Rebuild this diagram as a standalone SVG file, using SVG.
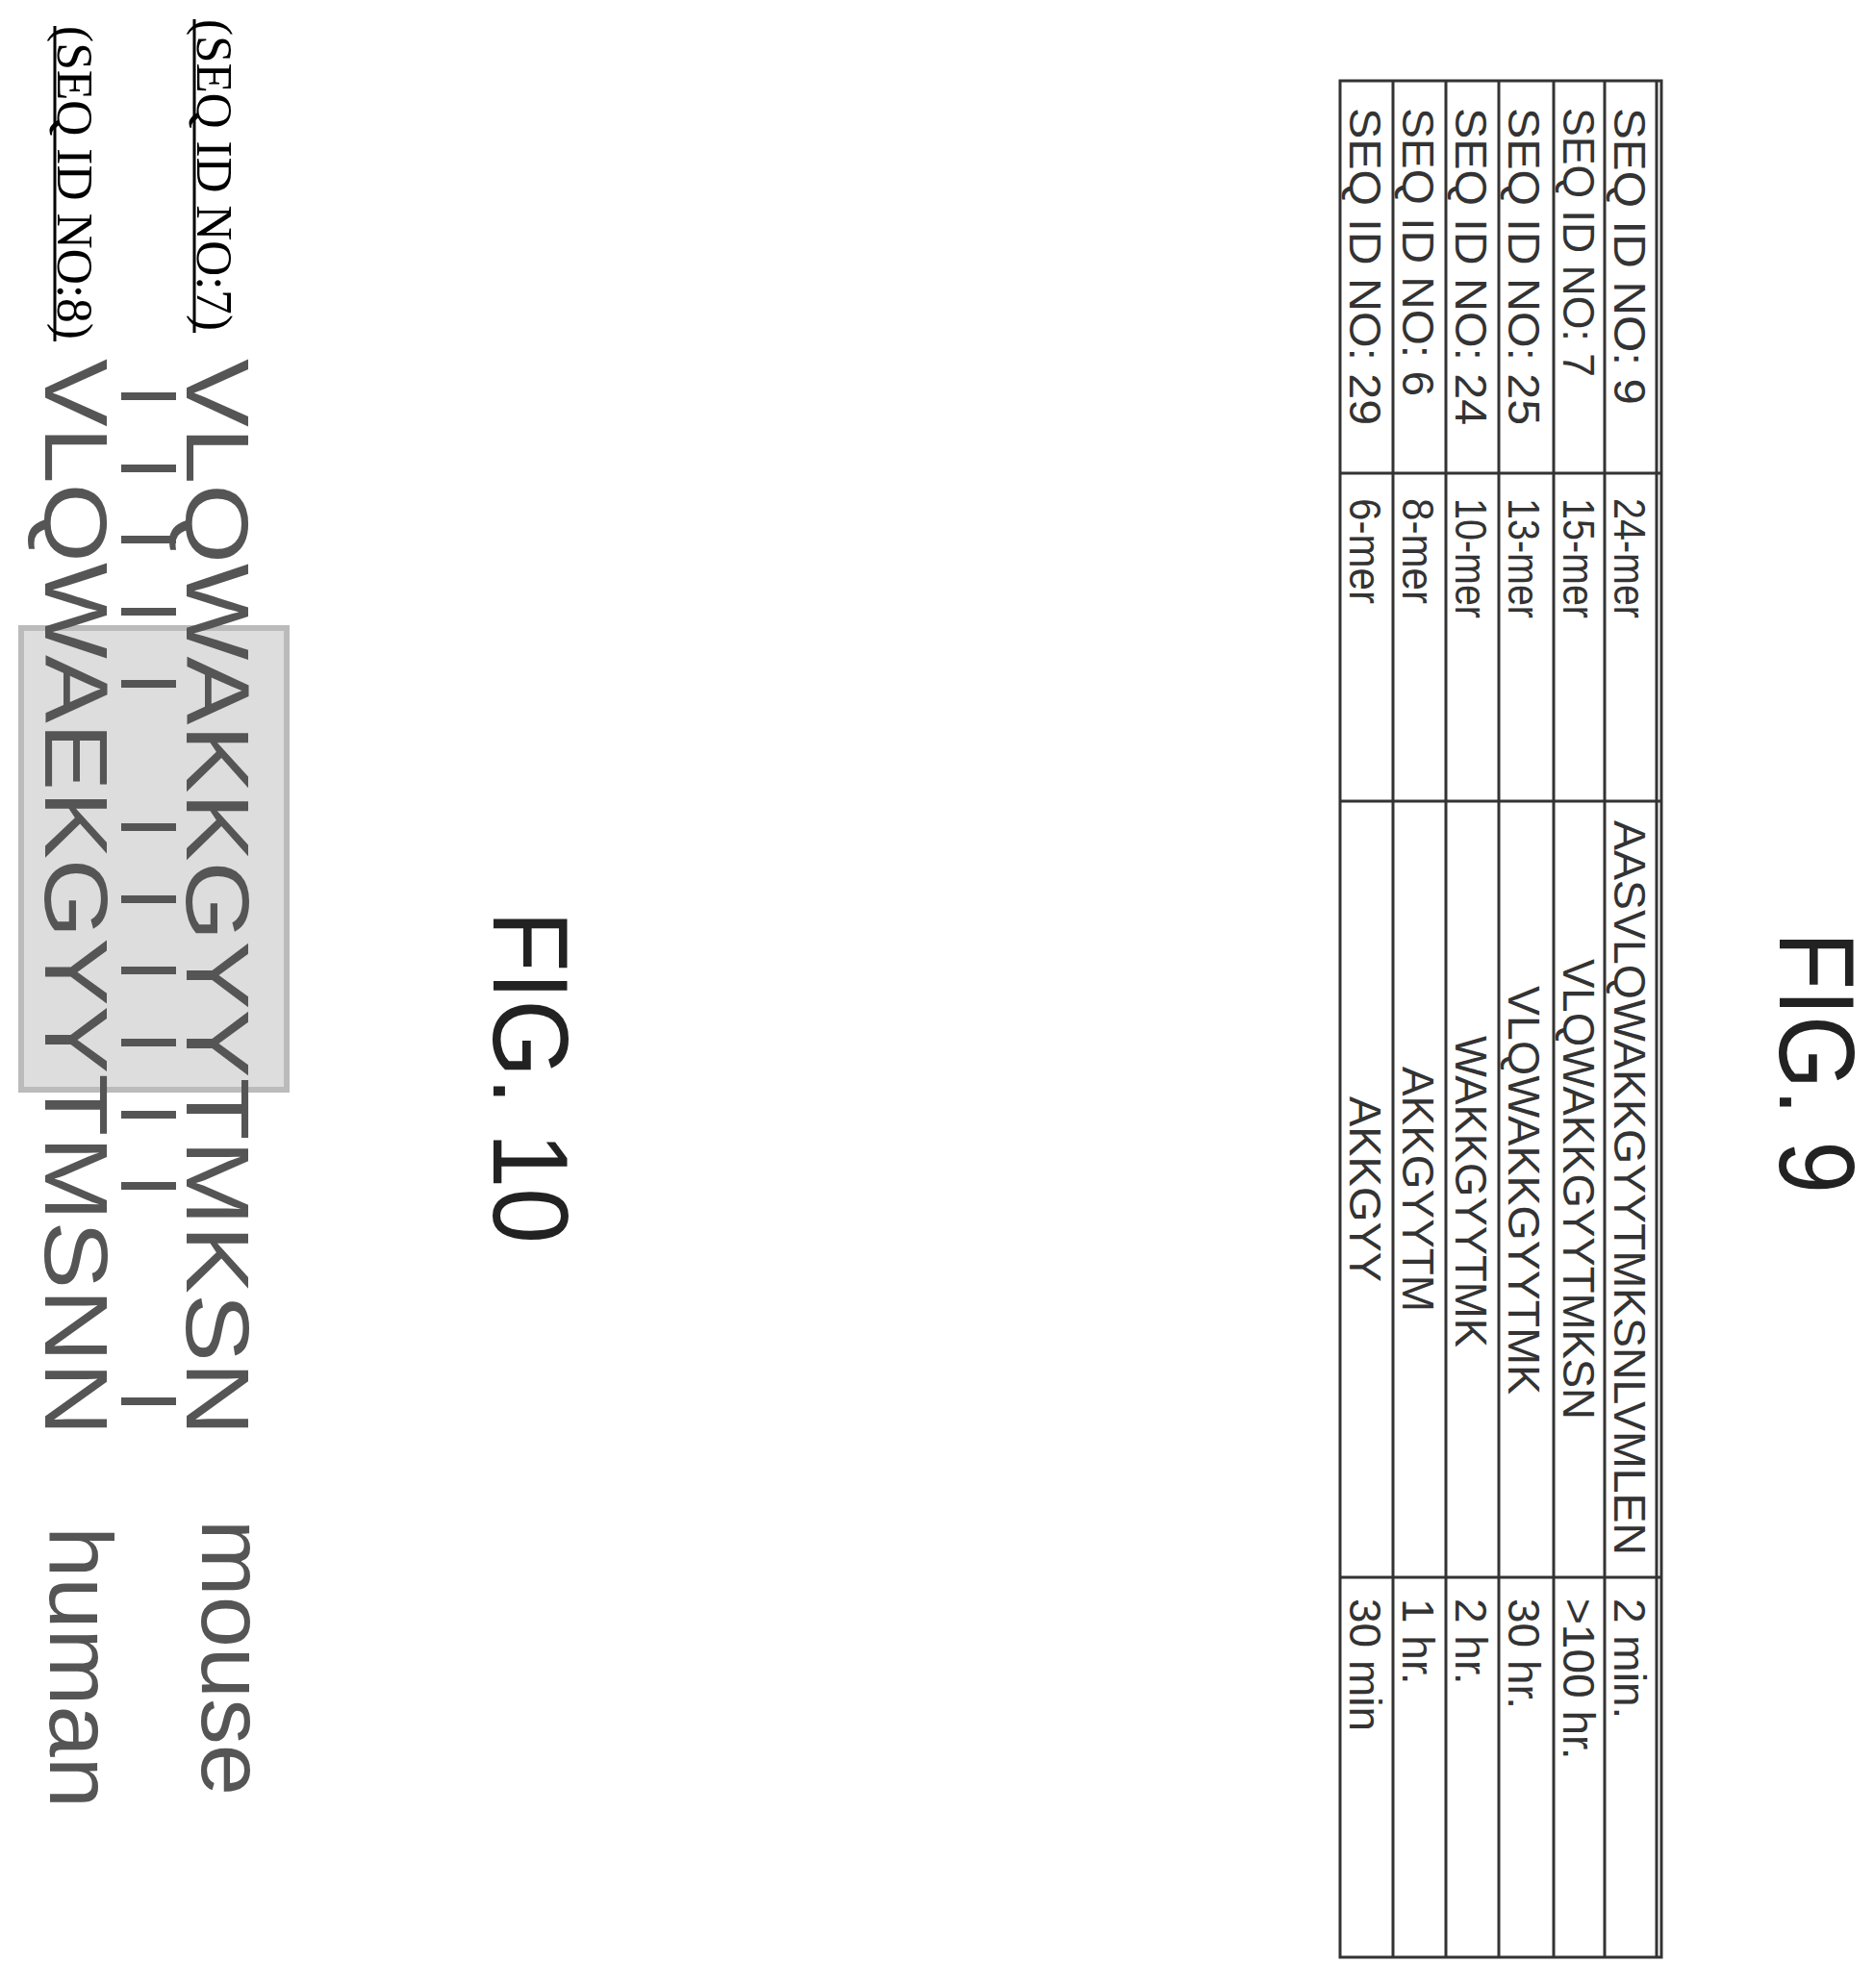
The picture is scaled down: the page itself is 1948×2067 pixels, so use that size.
<svg xmlns="http://www.w3.org/2000/svg" width="1948" height="2067" viewBox="0 0 1948 2067">
<style>
.t{font-family:"Liberation Sans",Arial,sans-serif;font-size:46px;fill:#333}
.fig{font-family:"Liberation Sans",Arial,sans-serif;font-size:112px;fill:#222}
.seq{font-family:"Liberation Sans",Arial,sans-serif;font-size:92px;fill:#555}
.id{font-family:"Liberation Serif","Times New Roman",serif;font-size:52px;fill:#000}
.bar{font-family:"Liberation Sans",Arial,sans-serif;font-size:92px;fill:#555}
.grid{stroke:#333;stroke-width:3;fill:none}
</style>
<g id="fig9-table">
<rect class="grid" x="1393" y="84" width="334" height="1951"/>
<line class="grid" x1="1722" y1="84" x2="1722" y2="2035"/>
<line class="grid" x1="1448" y1="84" x2="1448" y2="2035"/>
<line class="grid" x1="1503" y1="84" x2="1503" y2="2035"/>
<line class="grid" x1="1558" y1="84" x2="1558" y2="2035"/>
<line class="grid" x1="1615" y1="84" x2="1615" y2="2035"/>
<line class="grid" x1="1668" y1="84" x2="1668" y2="2035"/>
<line class="grid" x1="1393" y1="492" x2="1727" y2="492"/>
<line class="grid" x1="1393" y1="833" x2="1727" y2="833"/>
<line class="grid" x1="1393" y1="1640" x2="1727" y2="1640"/>
<g class="t">
<text transform="translate(1678,112) rotate(90)" textLength="309" lengthAdjust="spacingAndGlyphs">SEQ ID NO: 9</text>
<text transform="translate(1625,112) rotate(90)" textLength="280" lengthAdjust="spacingAndGlyphs">SEQ ID NO: 7</text>
<text transform="translate(1568,112) rotate(90)" textLength="330" lengthAdjust="spacingAndGlyphs">SEQ ID NO: 25</text>
<text transform="translate(1513,112) rotate(90)" textLength="330" lengthAdjust="spacingAndGlyphs">SEQ ID NO: 24</text>
<text transform="translate(1458,112) rotate(90)" textLength="300" lengthAdjust="spacingAndGlyphs">SEQ ID NO: 6</text>
<text transform="translate(1403,112) rotate(90)" textLength="330" lengthAdjust="spacingAndGlyphs">SEQ ID NO: 29</text>
<text transform="translate(1678,518) rotate(90)" textLength="125" lengthAdjust="spacingAndGlyphs">24-mer</text>
<text transform="translate(1625,518) rotate(90)" textLength="125" lengthAdjust="spacingAndGlyphs">15-mer</text>
<text transform="translate(1568,518) rotate(90)" textLength="125" lengthAdjust="spacingAndGlyphs">13-mer</text>
<text transform="translate(1513,518) rotate(90)" textLength="125" lengthAdjust="spacingAndGlyphs">10-mer</text>
<text transform="translate(1458,518) rotate(90)" textLength="110" lengthAdjust="spacingAndGlyphs">8-mer</text>
<text transform="translate(1403,518) rotate(90)" textLength="110" lengthAdjust="spacingAndGlyphs">6-mer</text>
<text transform="translate(1678,853) rotate(90)" textLength="764" lengthAdjust="spacingAndGlyphs">AASVLQWAKKGYYTMKSNLVMLEN</text>
<text transform="translate(1625,997) rotate(90)" textLength="479" lengthAdjust="spacingAndGlyphs">VLQWAKKGYYTMKSN</text>
<text transform="translate(1568,1025) rotate(90)" textLength="425" lengthAdjust="spacingAndGlyphs">VLQWAKKGYYTMK</text>
<text transform="translate(1513,1077) rotate(90)" textLength="324" lengthAdjust="spacingAndGlyphs">WAKKGYYTMK</text>
<text transform="translate(1458,1109) rotate(90)" textLength="255" lengthAdjust="spacingAndGlyphs">AKKGYYTM</text>
<text transform="translate(1403,1140) rotate(90)" textLength="193" lengthAdjust="spacingAndGlyphs">AKKGYY</text>
<text transform="translate(1678,1662) rotate(90)">2 min.</text>
<text transform="translate(1625,1662) rotate(90)">&gt;100 hr.</text>
<text transform="translate(1568,1662) rotate(90)">30 hr.</text>
<text transform="translate(1513,1662) rotate(90)">2 hr.</text>
<text transform="translate(1458,1662) rotate(90)">1 hr.</text>
<text transform="translate(1403,1662) rotate(90)">30 min</text>
</g>
</g>
<g id="fig9-label">
<text class="fig" transform="translate(1850,969) rotate(90)" textLength="272" lengthAdjust="spacingAndGlyphs">FIG. 9</text>
</g>
<g id="fig10-label">
<text class="fig" transform="translate(513,947) rotate(90)" textLength="346" lengthAdjust="spacingAndGlyphs">FIG. 10</text>
</g>
<g id="fig10-alignment">
<rect x="22" y="653" width="276" height="480" fill="#ddd" stroke="#bbb" stroke-width="6"/>
<text class="id" transform="translate(60,27) rotate(90)" textLength="326" lengthAdjust="spacingAndGlyphs">(SEQ ID NO:8)</text>
<line x1="57" y1="27" x2="57" y2="355" stroke="#000" stroke-width="3"/>
<text class="id" transform="translate(205,20) rotate(90)" textLength="324" lengthAdjust="spacingAndGlyphs">(SEQ ID NO:7)</text>
<line x1="202" y1="20" x2="202" y2="346" stroke="#000" stroke-width="3"/>
<text class="seq" transform="translate(194,373) rotate(90)" textLength="1120" lengthAdjust="spacingAndGlyphs">VLQWAKKGYYTMKSN</text>
<text class="seq" transform="translate(47,373) rotate(90)" textLength="1120" lengthAdjust="spacingAndGlyphs">VLQWAEKGYYTMSNN</text>
<g fill="#555">
<rect x="126" y="408" width="57" height="8"/>
<rect x="126" y="483" width="57" height="8"/>
<rect x="126" y="557" width="57" height="8"/>
<rect x="126" y="632" width="57" height="8"/>
<rect x="126" y="707" width="57" height="8"/>
<rect x="126" y="856" width="57" height="8"/>
<rect x="126" y="931" width="57" height="8"/>
<rect x="126" y="1005" width="57" height="8"/>
<rect x="126" y="1080" width="57" height="8"/>
<rect x="126" y="1155" width="57" height="8"/>
<rect x="126" y="1229" width="57" height="8"/>
<rect x="126" y="1453" width="57" height="8"/>
</g>
<text class="seq" transform="translate(210,1580) rotate(90)" textLength="287" lengthAdjust="spacingAndGlyphs">mouse</text>
<text class="seq" transform="translate(52,1587) rotate(90)" textLength="293" lengthAdjust="spacingAndGlyphs">human</text>
</g>
</svg>
